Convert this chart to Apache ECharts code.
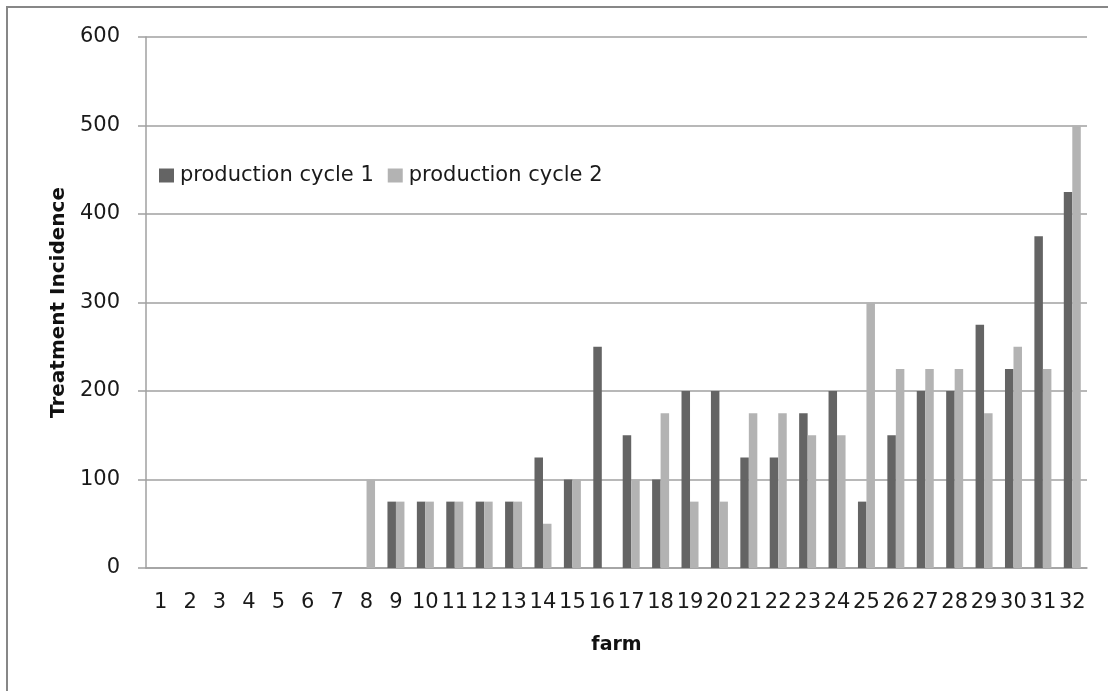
<!DOCTYPE html>
<html>
<head>
<meta charset="utf-8">
<script src="https://cdn.jsdelivr.net/npm/echarts@6/dist/echarts.min.js"></script>
<style>
  html, body { margin: 0; padding: 0; background: #fff; }
  #chart { width: 1108px; height: 691px; }
</style>
</head>
<body>
<div id="chart"></div>
<script>
const farms = ["1","2","3","4","5","6","7","8","9","10","11","12","13","14","15","16",
  "17","18","19","20","21","22","23","24","25","26","27","28","29","30","31","32"];
const cycle1 = [0,0,0,0,0,0,0,0,75,75,75,75,75,125,100,250,
  150,100,200,200,125,125,175,200,75,150,200,200,275,225,375,425];
const cycle2 = [0,0,0,0,0,0,0,100,75,75,75,75,75,50,100,0,
  100,175,75,75,175,175,150,150,300,225,225,225,175,250,225,500];
const yTicks = { min: 0, max: 600, interval: 100 };

const font = "'DejaVu Sans', sans-serif";
const chart = echarts.init(document.getElementById("chart"));

chart.setOption({
  animation: false,
  backgroundColor: "#fff",
  textStyle: { fontFamily: font },
  // outer chart frame, cut off at the right and bottom like the reference
  graphic: [{
    type: "rect",
    shape: { x: 7, y: 7, width: 1120, height: 700 },
    style: { fill: "none", stroke: "#878787", lineWidth: 2 },
    silent: true
  }],
  grid: { left: 146, right: 21, top: 37, bottom: 123 },
  legend: {
    left: 154,
    top: 160,
    itemWidth: 15,
    itemHeight: 14,
    itemGap: 14,
    icon: "rect",
    textStyle: { fontSize: 21, color: "#1a1a1a", fontFamily: font, padding: [0, 0, 0, 1] },
    data: ["production cycle 1", "production cycle 2"]
  },
  xAxis: {
    type: "category",
    data: farms,
    name: "farm",
    nameLocation: "middle",
    nameGap: 68,
    nameTextStyle: { fontSize: 19, fontWeight: "bold", color: "#111", fontFamily: font },
    axisLine: { lineStyle: { color: "#a0a0a0", width: 1.5 } },
    axisTick: { interval: 0, length: 8, lineStyle: { color: "#a0a0a0", width: 1.5 } },
    axisLabel: { interval: 0, margin: 24, fontSize: 21, color: "#1a1a1a", fontFamily: font }
  },
  yAxis: {
    type: "value",
    min: yTicks.min,
    max: yTicks.max,
    interval: yTicks.interval,
    name: "Treatment Incidence",
    nameLocation: "middle",
    nameRotate: 90,
    nameGap: 77,
    nameTextStyle: { fontSize: 20, fontWeight: "bold", color: "#111", fontFamily: font },
    axisLine: { show: true, lineStyle: { color: "#a0a0a0", width: 1.5 } },
    axisTick: { show: true, inside: false, length: 8, lineStyle: { color: "#a0a0a0", width: 1.5 } },
    axisLabel: { margin: 26, fontSize: 21, color: "#1a1a1a", fontFamily: font, padding: [4, 0, 0, 0] },
    splitLine: { lineStyle: { color: "#a0a0a0", width: 1.5 } }
  },
  series: [
    {
      name: "production cycle 1",
      type: "bar",
      data: cycle1,
      barWidth: 8.5,
      barGap: "0%",
      itemStyle: { color: "#646464" }
    },
    {
      name: "production cycle 2",
      type: "bar",
      data: cycle2,
      barWidth: 8.5,
      barGap: "0%",
      itemStyle: { color: "#b3b3b3" }
    }
  ]
});
</script>
</body>
</html>
